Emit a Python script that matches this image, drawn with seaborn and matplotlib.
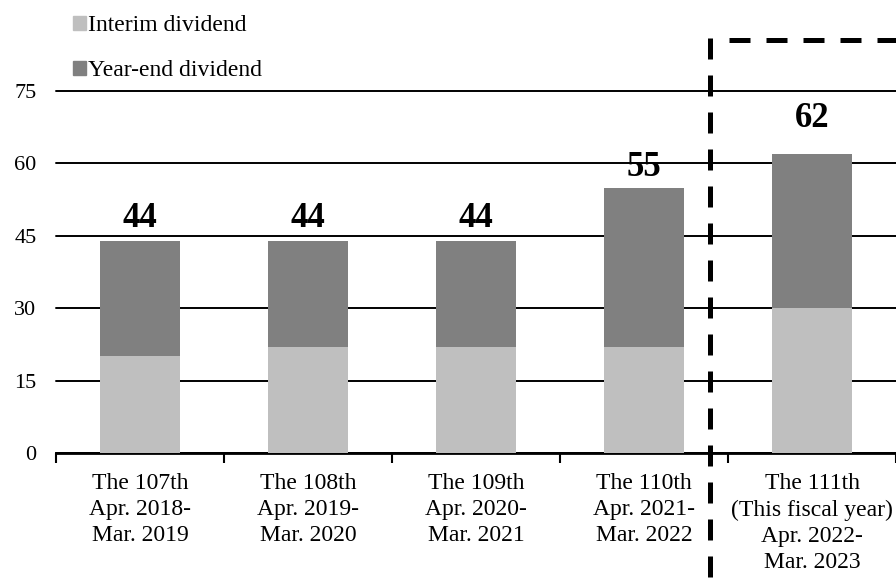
import matplotlib
matplotlib.use("Agg")
import matplotlib.pyplot as plt
from matplotlib.lines import Line2D
from matplotlib.patches import Patch
import seaborn as sns
import pandas as pd

# Dividend per share (yen)
periods = ["The 107th\nApr. 2018-\nMar. 2019",
           "The 108th\nApr. 2019-\nMar. 2020",
           "The 109th\nApr. 2020-\nMar. 2021",
           "The 110th\nApr. 2021-\nMar. 2022",
           "The 111th\n(This fiscal year)\nApr. 2022-\nMar. 2023"]
interim = [20, 22, 22, 22, 30]
year_end = [24, 22, 22, 33, 32]
yticks = [0, 15, 30, 45, 60, 75]

label_offsets = [10, 10, 10, 8, 19]  # points above bar top

df = pd.DataFrame({"period": periods, "interim": interim, "year_end": year_end})
df["total"] = df["interim"] + df["year_end"]

sns.set_style("white")
plt.rcParams["font.family"] = ["Liberation Serif", "DejaVu Serif"]
plt.rcParams["text.color"] = "black"
plt.rcParams["xtick.color"] = "black"
plt.rcParams["ytick.color"] = "black"

fig = plt.figure(figsize=(8.96, 5.79), dpi=100)
ax = fig.add_axes([56 / 896, 1 - 453 / 579, 1 - 56 / 896, (453 - 91) / 579])

c_int = "#bfbfbf"
c_ye = "#808080"
sns.barplot(data=df, x="period", y="total", color=c_ye, width=0.48,
            saturation=1, linewidth=0, ax=ax, zorder=3)
sns.barplot(data=df, x="period", y="interim", color=c_int, width=0.48,
            saturation=1, linewidth=0, ax=ax, zorder=3)

for i, t in enumerate(df["total"]):
    ax.annotate(str(t), (i, t), xytext=(0, label_offsets[i]), textcoords="offset points",
                ha="center", va="baseline", fontsize=25, fontweight="bold")

ax.set_xlim(-0.5, 4.5)
ax.set_ylim(0, 75)
ax.set_yticks(yticks)
ax.yaxis.grid(True, color="black", lw=1.4, zorder=1)
for gl in ax.get_ygridlines():
    gl.set_clip_on(False)
ax.set_axisbelow(True)
for s in ["top", "right", "left"]:
    ax.spines[s].set_visible(False)
ax.spines["bottom"].set_linewidth(2)
ax.spines["bottom"].set_color("black")
ax.set_xlabel("")
ax.set_ylabel("")
ax.tick_params(axis="y", length=0, labelsize=16, pad=14)
ax.tick_params(axis="x", which="major", length=0, labelsize=17, pad=14.5)
for lbl in ax.get_xticklabels():
    lbl.set_linespacing(1.32)
ax.set_xticks([i - 0.5 for i in range(6)], minor=True)
ax.tick_params(axis="x", which="minor", bottom=True, length=7, width=1.5,
               direction="out", color="black")

# dashed frame around the current fiscal year
fig.add_artist(Line2D([710 / 896, 710 / 896], [1 - 38 / 579, 0], color="black",
                      lw=3.6, dashes=(4.2, 3.2)))
fig.add_artist(Line2D([729 / 896, 1], [1 - 40 / 579, 1 - 40 / 579], color="black",
                      lw=3.6, dashes=(4.2, 3.2)))

handles = [Patch(color=c_int, label="Interim dividend"),
           Patch(color=c_ye, label="Year-end dividend")]
fig.legend(handles=handles, loc="upper left", bbox_to_anchor=(73 / 896, 1 - 15 / 579),
           frameon=False, fontsize=17, handlelength=0.55, handleheight=0.55,
           handletextpad=0.1, labelspacing=1.03, borderpad=0, borderaxespad=0)

fig.savefig("out.png", dpi=100)
